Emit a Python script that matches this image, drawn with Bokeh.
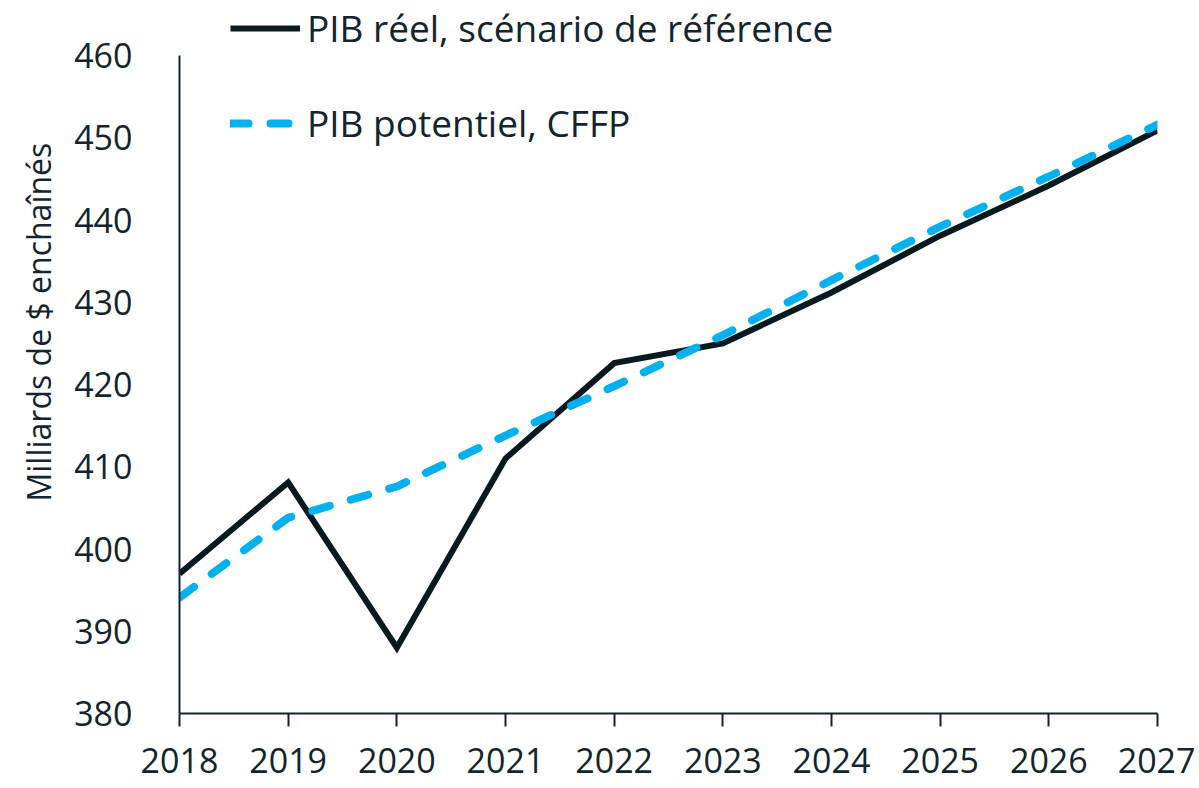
from bokeh.plotting import figure
from bokeh.models import Legend, LegendItem, Title, FixedTicker, Range1d
from bokeh.embed import file_html
from bokeh.resources import INLINE

years = [2018, 2019, 2020, 2021, 2022, 2023, 2024, 2025, 2026, 2027]
pib_reel = [397.0, 408.1, 388.0, 411.0, 422.6, 425.0, 431.2, 438.1, 444.2, 450.9]
pib_potentiel = [394.1, 403.8, 407.6, 413.8, 419.8, 426.0, 432.7, 439.2, 445.3, 451.6]
y_ticks = [380, 390, 400, 410, 420, 430, 440, 450, 460]
label_reel = "PIB réel, scénario de référence"
label_pot = "PIB potentiel, CFFP"
y_title = "Milliards de $ enchaînés"

FONT = "Open Sans"
TXT = "#13242c"
BLACK = "#081a20"
BLUE = "#00b0ef"

# frame extends to the top of the canvas so the legend (which overhangs the axis top) is not clipped;
# the axis line itself is bounded to 380-460
Y_MIN, Y_AXIS_MAX, Y_FRAME_TOP = 380, 460, 466.7

p = figure(width=1195, height=788, output_backend="svg", toolbar_location=None,
           x_range=Range1d(2018, 2027), y_range=Range1d(Y_MIN, Y_FRAME_TOP),
           min_border_left=179, min_border_right=38, min_border_top=0, min_border_bottom=75)
p.outline_line_color = None
p.background_fill_color = "white"
p.border_fill_color = "white"
p.grid.visible = False

r1 = p.line(years, pib_reel, line_color=BLACK, line_width=6, line_join="miter")
r2 = p.line(years, pib_potentiel, line_color=BLUE, line_width=8, line_dash="18 22", line_cap="round")

xa = p.xaxis[0]
xa.ticker = FixedTicker(ticks=years)
xa.axis_line_color = TXT
xa.axis_line_width = 2
xa.major_tick_line_color = TXT
xa.major_tick_line_width = 2
xa.major_tick_in = 0
xa.major_tick_out = 13
xa.minor_tick_line_color = None
xa.major_label_standoff = 21
xa.major_label_text_font = FONT
xa.major_label_text_font_size = "34px"
xa.major_label_text_color = TXT

ya = p.yaxis[0]
ya.ticker = FixedTicker(ticks=y_ticks)
ya.bounds = (Y_MIN, Y_AXIS_MAX)
ya.axis_line_color = TXT
ya.axis_line_width = 2
ya.major_tick_line_color = None
ya.major_tick_in = 0
ya.major_tick_out = 0
ya.minor_tick_line_color = None
ya.major_label_standoff = 47
ya.major_label_text_font = FONT
ya.major_label_text_font_size = "34px"
ya.major_label_text_color = TXT

p.add_layout(Title(text=y_title, align="left", offset=212, text_font=FONT, text_font_size="32px",
                   text_font_style="normal", text_color=TXT, standoff=24), "left")

legend = Legend(items=[LegendItem(label=label_reel, renderers=[r1]),
                       LegendItem(label=label_pot, renderers=[r2])],
                location=(51, 565), orientation="vertical")
legend.border_line_color = None
legend.background_fill_alpha = 0
legend.padding = 0
legend.margin = 0
legend.spacing = 44
legend.glyph_width = 70
legend.glyph_height = 40
legend.label_standoff = 7
legend.label_text_font = FONT
legend.label_text_font_size = "37px"
legend.label_text_color = TXT
p.add_layout(legend, "center")

open("out.html", "w").write(file_html(p, INLINE))
